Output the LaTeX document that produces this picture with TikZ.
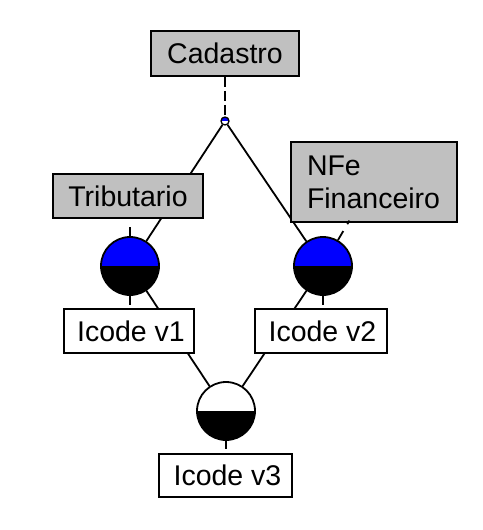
\documentclass[tikz,border=0pt]{standalone}
\usepackage{fontspec}
\setmainfont{Liberation Sans}
\usetikzlibrary{backgrounds}
\definecolor{boxgray}{RGB}{192,192,192}
\begin{document}
\begin{tikzpicture}[x=1pt,y=-1pt,
  every node/.style={font=\fontsize{28.5}{33}\selectfont},
  lbl/.style={draw=black, line width=1.8pt, rectangle, inner sep=0pt, minimum height=44pt},
  grayb/.style={lbl, fill=boxgray},
  whiteb/.style={lbl, fill=white},
  joint/.style={circle, draw=black, line width=1.8pt, inner sep=0pt, minimum size=58pt,
    path picture={\fill[#1] (path picture bounding box.north west) rectangle (path picture bounding box.east);
                  \fill[black] (path picture bounding box.west) rectangle (path picture bounding box.south east);}},
  tiny/.style={circle, draw=black, line width=1.3pt, inner sep=0pt, minimum size=8pt,
    path picture={\fill[blue] (path picture bounding box.north west) rectangle (path picture bounding box.east);
                  \fill[white] (path picture bounding box.west) rectangle (path picture bounding box.south east);}},
  conn/.style={line width=1.8pt},
]
\useasboundingbox (0,0) rectangle (482,530);

% joints
\node[tiny] (S) at (225,121) {};
\node[joint=blue] (L) at (130,266) {};
\node[joint=blue] (R) at (323,266) {};
\node[joint=white] (B) at (226,411) {};

% boxes
\node[grayb, minimum width=148pt, minimum height=45pt] (cad) at (225,53.5) {Cadastro};
\node[grayb, minimum width=150pt] (trib) at (128,196) {Tributario};
\node[grayb, minimum width=166pt, minimum height=80pt, align=left, text width=134pt, inner xsep=16pt] (nfe) at (374,182) {NFe\\Financeiro};
\node[whiteb, minimum width=130pt] (v1) at (129,331) {\hspace*{4pt}Icode v1};
\node[whiteb, minimum width=132pt] (v2) at (321,331) {\hspace*{3pt}Icode v2};
\node[whiteb, minimum width=133pt, minimum height=43pt] (v3) at (225.5,475.5) {\hspace*{4pt}Icode v3};

\begin{scope}[on background layer]
  \draw[conn, dash pattern=on 10pt off 4pt] (cad.south) -- (S.north);
  \draw[conn] (S) -- (L);
  \draw[conn] (S) -- (R);
  \draw[conn] (L) -- (B);
  \draw[conn] (R) -- (B);
\end{scope}

% stubs
\draw[conn] (L.north) -- ++(0,-9);
\draw[conn] (L.south) -- ++(0,9);
\draw[conn] (R.south) -- ++(0,9);
\draw[conn] (B.south) -- ++(0,8);
\draw[conn, dash pattern=on 10.5pt off 8pt on 6pt] (R.60) -- ++(11.5,-19.5);
\end{tikzpicture}
\end{document}
